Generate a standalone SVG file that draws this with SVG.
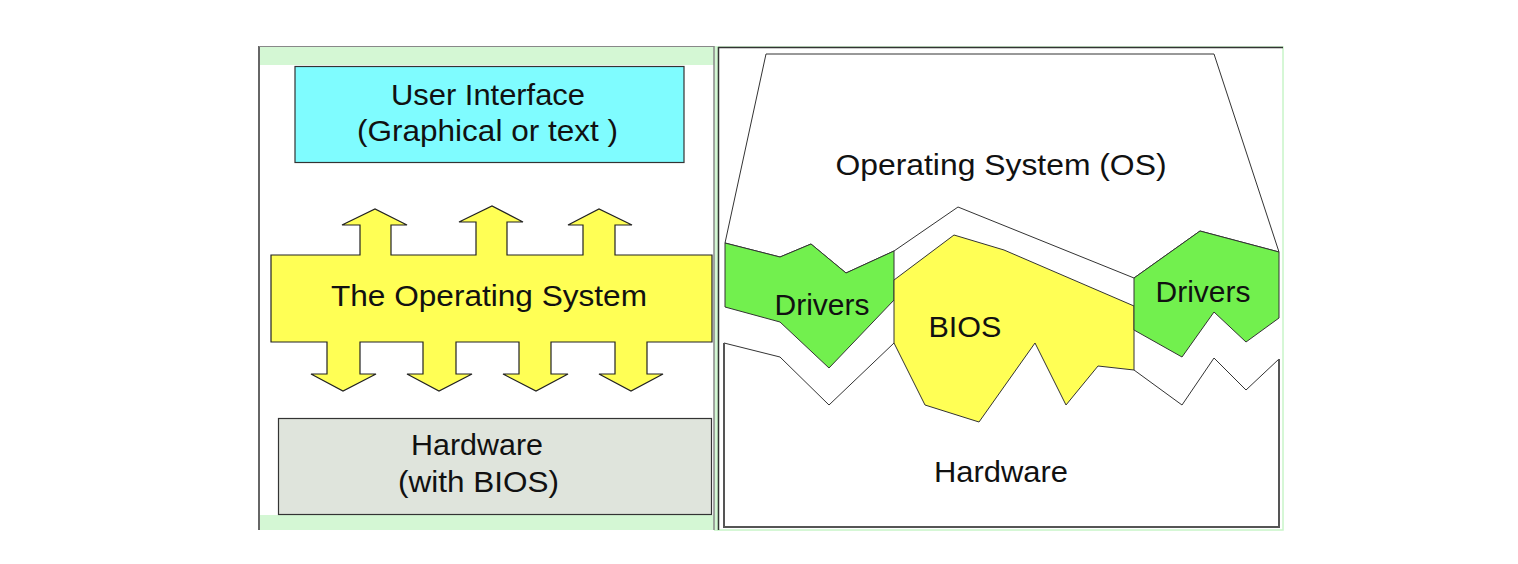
<svg xmlns="http://www.w3.org/2000/svg" width="1518" height="564" viewBox="0 0 1518 564">
<style>
  text { font-family: "Liberation Sans", Arial, sans-serif; font-size: 29px; fill: #111; text-anchor: middle; }
  .thin { stroke: #333; stroke-width: 1; stroke-linejoin: miter; }
  .band { fill: #d4f7d4; }
</style>
<rect x="0" y="0" width="1518" height="564" fill="#ffffff"/>

<g id="left-panel">
  <rect x="259" y="46" width="455" height="484" fill="#ffffff"/>
  <rect class="band" x="260" y="47" width="454" height="18"/>
  <rect class="band" x="260" y="515" width="454" height="15"/>
  <rect x="714" y="46" width="4" height="485" fill="#d4f7d4"/>
  <line x1="259" y1="46" x2="259" y2="530" stroke="#333" stroke-width="1.5"/>
  <line x1="259" y1="46.5" x2="714" y2="46.5" stroke="#888" stroke-width="1"/>
  <line x1="714" y1="46" x2="714" y2="530" stroke="#888" stroke-width="1.5"/>
</g>

<g id="user-interface">
  <rect x="295" y="66.5" width="389" height="96" fill="#7ffcff" stroke="#333" stroke-width="1.2"/>
  <text x="488" y="105" textLength="194" lengthAdjust="spacingAndGlyphs">User Interface</text>
  <text x="487.5" y="141" textLength="261" lengthAdjust="spacingAndGlyphs">(Graphical or text )</text>
</g>

<g id="operating-system-left">
  <path fill="#ffff55" stroke="#222" stroke-width="1.2" stroke-linejoin="miter" d="M271,255 L360,255 L360,225 L342,225 L375,209 L407,225 L391,225 L391,255 L476,255 L476,222 L459,222 L492,206 L523,222 L507,222 L507,255 L583,255 L583,225 L568,225 L599,209 L632,225 L615,225 L615,255 L712,255 L712,342 L647,342 L647,374 L663,374 L631,391 L599,374 L615,374 L615,342 L551,342 L551,374 L568,374 L536,391 L503,374 L519,374 L519,342 L456,342 L456,374 L472,374 L439,391 L407,374 L423,374 L423,342 L360,342 L360,374 L376,374 L343,391 L311,374 L327,374 L327,342 L271,342 Z"/>
  <text x="489" y="306" textLength="316" lengthAdjust="spacingAndGlyphs">The Operating System</text>
</g>

<g id="hardware-left">
  <rect x="278.5" y="418.5" width="433" height="96" fill="#dfe4dc" stroke="#333" stroke-width="1.2"/>
  <text x="477" y="455" textLength="132" lengthAdjust="spacingAndGlyphs">Hardware</text>
  <text x="478.5" y="492" textLength="161" lengthAdjust="spacingAndGlyphs">(with BIOS)</text>
</g>

<g id="right-panel">
  <rect x="718" y="47" width="565" height="483" fill="#ffffff" stroke="#c8f5c8" stroke-width="1.5"/>
  <line x1="718.5" y1="47" x2="718.5" y2="530" stroke="#333" stroke-width="1.5"/>
  <line x1="718" y1="47.5" x2="1283" y2="47.5" stroke="#333" stroke-width="1.5"/>
</g>

<g id="hardware-right">
  <path fill="#ffffff" stroke="none" d="M724,343 L780,357 L829,405 L894,343 L1134,370 L1182,405 L1214,358 L1246,390 L1279,359 L1279,527 L724,527 Z"/>
  <path fill="none" class="thin" stroke-width="0.8" d="M724,343 L780,357 L829,405 L894,343 M1134,370 L1182,405 L1214,358 L1246,390 L1279,359"/>
  <path fill="none" stroke="#555" stroke-width="2" d="M724,343 L724,527 L1279,527 L1279,359"/>
  <text x="1001" y="482" textLength="134" lengthAdjust="spacingAndGlyphs">Hardware</text>
</g>

<g id="os-right">
  <polygon class="thin" fill="#ffffff" points="766,54 1214,54 1279,252 1200,231 1134,278 958,207 894,251 846,273 811,244 780,257 725,243"/>
  <text x="1001" y="175" textLength="331" lengthAdjust="spacingAndGlyphs">Operating System (OS)</text>
</g>

<g id="drivers-left">
  <polygon class="thin" fill="#72f04e" points="725,243 780,257 811,244 846,273 894,251 894,300 829,368 780,322 725,307"/>
  <text x="822" y="315" textLength="95" lengthAdjust="spacingAndGlyphs">Drivers</text>
</g>

<g id="bios">
  <polygon class="thin" fill="#ffff55" points="894,280 954,235 1004,250 1134,306 1134,370 1098,366 1066,405 1035,343 979,422 925,405 894,343"/>
  <text x="965" y="337" textLength="73" lengthAdjust="spacingAndGlyphs">BIOS</text>
</g>

<g id="drivers-right">
  <polygon class="thin" fill="#72f04e" points="1134,278 1200,231 1279,252 1279,318 1246,342 1214,312 1182,357 1134,330"/>
  <text x="1203" y="302" textLength="95" lengthAdjust="spacingAndGlyphs">Drivers</text>
</g>

<g id="connectors"></g>
</svg>
